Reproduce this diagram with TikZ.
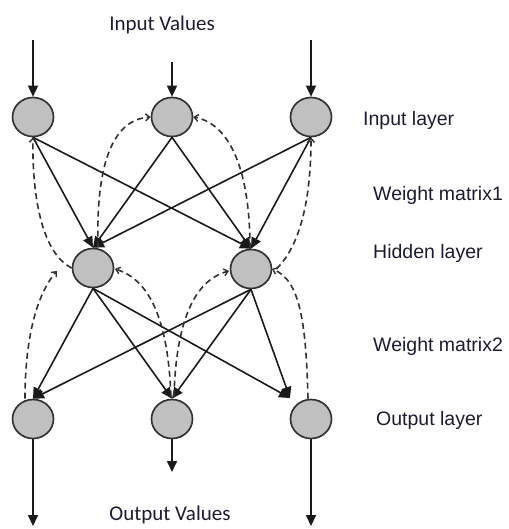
\documentclass[tikz,border=0pt]{standalone}
\usepackage{fontspec}
\setmainfont{Liberation Sans}
\newfontfamily\calibfont{Carlito}
\usetikzlibrary{arrows.meta,shapes.geometric}

\definecolor{neuronfill}{HTML}{C0C0C0}
\definecolor{neuronedge}{HTML}{333333}
\definecolor{wire}{HTML}{1A1A1A}
\definecolor{labeltext}{HTML}{1C1C30}

\tikzset{
  neuron/.style={ellipse, draw=neuronedge, fill=neuronfill, line width=1.7pt,
                 minimum width=41pt, minimum height=39pt, inner sep=0pt},
  weight/.style={draw=wire, line width=1.6pt,
                 -{Triangle[length=11pt,width=10pt]}},
  feedback/.style={draw=wire!90, line width=1.6pt, dash pattern=on 6pt off 4pt,
                   -{Straight Barb[length=4pt,width=7pt,line width=1.4pt]}},
  layerlabel/.style={anchor=west, text=labeltext, inner sep=0pt,
                     font=\fontsize{19.5}{23}\selectfont},
  titlelabel/.style={text=labeltext, inner sep=0pt,
                     font=\calibfont\fontsize{21}{25}\selectfont}
}

\begin{document}
\begin{tikzpicture}[x=1pt,y=-1pt]
\useasboundingbox (0,0) rectangle (508,529);

% neurons
\node[neuron] (i1) at (33,117) {};
\node[neuron] (i2) at (172,117) {};
\node[neuron] (i3) at (311,117) {};
\node[neuron] (h1) at (93,268) {};
\node[neuron] (h2) at (251,269) {};
\node[neuron] (o1) at (33,419) {};
\node[neuron] (o2) at (172,419) {};
\node[neuron] (o3) at (311,419) {};

% free ends of the value arrows
\coordinate (in1) at (33,40);
\coordinate (in2) at (172,62);
\coordinate (in3) at (311,40);
\coordinate (out1) at (33,526);
\coordinate (out2) at (172,472);
\coordinate (out3) at (311,526);
\coordinate (o3in) at (290,398);

% feedback arrow ends that stop short of the neurons
\coordinate (h1w) at (57,271);
\coordinate (h1e) at (115,269);
\coordinate (h2w) at (229,271);
\coordinate (h2e) at (272,269);

% input and output value arrows
\draw[weight] (in1) -- (i1.north);
\draw[weight] (in2) -- (i2.north);
\draw[weight] (in3) -- (i3.north);
\draw[weight] (o1.south) -- (out1);
\draw[weight] (o2.south) -- (out2);
\draw[weight] (o3.south) -- (out3);

% weight matrix 1
\foreach \s in {i1,i2,i3}
  \foreach \t in {h1,h2}
    \draw[weight] (\s.south) -- (\t.north);

% weight matrix 2
\draw[weight] (h1.south) -- (o1.north);
\draw[weight] (h1.south) -- (o2.north);
\draw[weight] (h1.south) -- (o3in);
\draw[weight] (h2.south) -- (o1.north);
\draw[weight] (h2.south) -- (o2.north);
\draw[weight] (h2.south) -- (o3in);

% feedback connections
\draw[feedback] (h1.west) .. controls (40,252) and (32,190) .. (i1.south);
\draw[feedback] (h1.north) ++(5,-1) .. controls (96,170) and (110,120) .. (i2.west);
\draw[feedback] (h2.north) ++(-1,0) .. controls (250,170) and (230,124) .. (i2.east);
\draw[feedback] (h2.east) ++(4,0) .. controls (300,246) and (311,200) .. (i3.south);
\draw[feedback] (o3.north) ++(-3,0) .. controls (306,322) and (300,280) .. (h2e);
\draw[feedback] (o1.north) ++(-8,0) .. controls (25,330) and (40,290) .. (h1w);
\draw[feedback] (o2.north) ++(-1,-2) .. controls (168,320) and (150,280) .. (h1e);
\draw[feedback] (o2.north) ++(2,-2) .. controls (176,320) and (195,280) .. (h2w);

% labels
\node[titlelabel] (tin) at (162,25) {Input Values};
\node[titlelabel] (tout) at (170,515) {Output Values};
\node[layerlabel] (lin) at (363,120) {Input layer};
\node[layerlabel] (lw1) at (373,195) {Weight matrix1};
\node[layerlabel] (lhid) at (373,253) {Hidden layer};
\node[layerlabel] (lw2) at (373,346) {Weight matrix2};
\node[layerlabel] (lout) at (376,420) {Output layer};
\end{tikzpicture}
\end{document}
